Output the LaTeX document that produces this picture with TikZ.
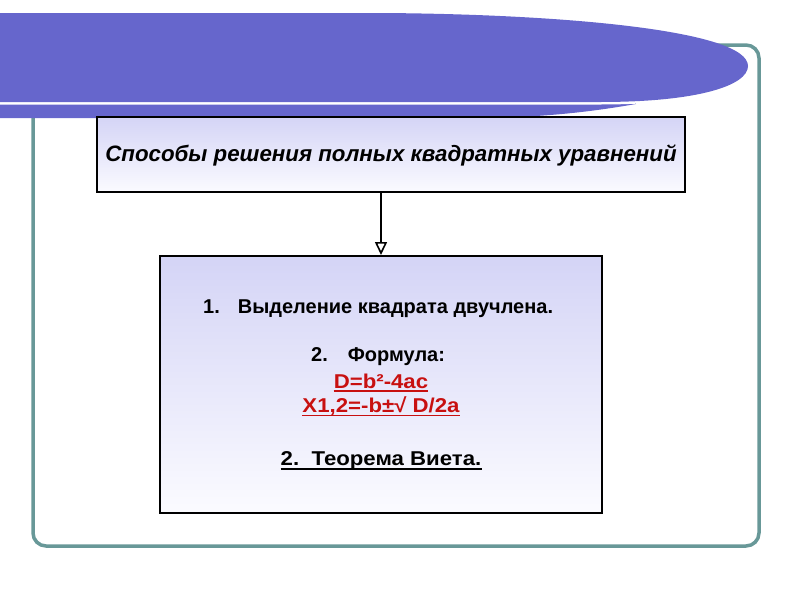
\documentclass[tikz,border=0pt]{standalone}
\usepackage{fontspec}
\setmainfont{Liberation Sans}
\usetikzlibrary{arrows.meta}
\definecolor{bandblue}{RGB}{102,102,204}
\definecolor{frameteal}{RGB}{104,152,152}
\definecolor{boxtop}{RGB}{212,212,246}
\definecolor{boxbot}{RGB}{251,251,255}
\definecolor{formred}{RGB}{200,16,16}
\tikzset{
  gradbox/.style={draw=black, line width=2pt, top color=boxtop, bottom color=boxbot, inner sep=0pt},
  bodytext/.style={inner sep=0pt, font=\fontsize{20}{24}\selectfont\bfseries},
  redtext/.style={bodytext, text=formred},
  uline/.style={line width=1.4pt},
}
\newcommand{\widetext}[1]{\scalebox{1.11}[1]{#1}}
\begin{document}
\begin{tikzpicture}[x=1pt,y=-1pt]
\useasboundingbox (0,0) rectangle (800,600);
% frame
\draw[frameteal, line width=3.5pt, rounded corners=13pt] (33,45) rectangle (759,546);
% back sliver
\fill[bandblue] (-5,60) -- (630,60) -- (636,104) .. controls (590,112) and (540,118) .. (470,118) -- (-5,118) -- cycle;
% white halo + front band
\draw[white, line width=5pt] (-5,102) -- (600,102) .. controls (700,102) and (748,85) .. (748,66);
\fill[bandblue] (-5,13) -- (380,13) .. controls (560,14) and (748,30) .. (748,66) .. controls (748,85) and (700,102) .. (600,102) -- (-5,102) -- cycle;
% boxes
\node[gradbox, minimum width=588pt, minimum height=75pt] (top) at (391,154.5) {};
\node[inner sep=0pt, font=\fontsize{22.3}{26}\selectfont\bfseries\itshape] (title) at (391,155) {Способы решения полных квадратных уравнений};
\node[gradbox, minimum width=442pt, minimum height=257pt] (low) at (381,384.5) {};
\draw[line width=2pt, -{Triangle[open, length=13pt, width=12pt, line width=1.6pt]}] (low.north |- top.south) -- (low.north);
% texts
\node[bodytext, anchor=west] (l1) at (203,309) {1.\hspace{18pt}Выделение квадрата двучлена.};
\node[bodytext, anchor=west] (l2) at (311,357) {2.\hspace{20pt}Формула:};
\node[redtext] (l3) at (381,381) {\widetext{D=b²-4ac}};
\node[redtext] (l4) at (381,406) {\widetext{X1,2=-b±√ D/2a}};
\node[bodytext] (l5) at (381,461) {\widetext{2.\ \ Теорема Виета.}};
\draw[uline, formred] ([yshift=-3pt]l3.base west) -- ([yshift=-3pt]l3.base east);
\draw[uline, formred] ([yshift=-3pt]l4.base west) -- ([yshift=-3pt]l4.base east);
\draw[uline, black] ([yshift=-3pt]l5.base west) -- ([yshift=-3pt]l5.base east);
\end{tikzpicture}
\end{document}
